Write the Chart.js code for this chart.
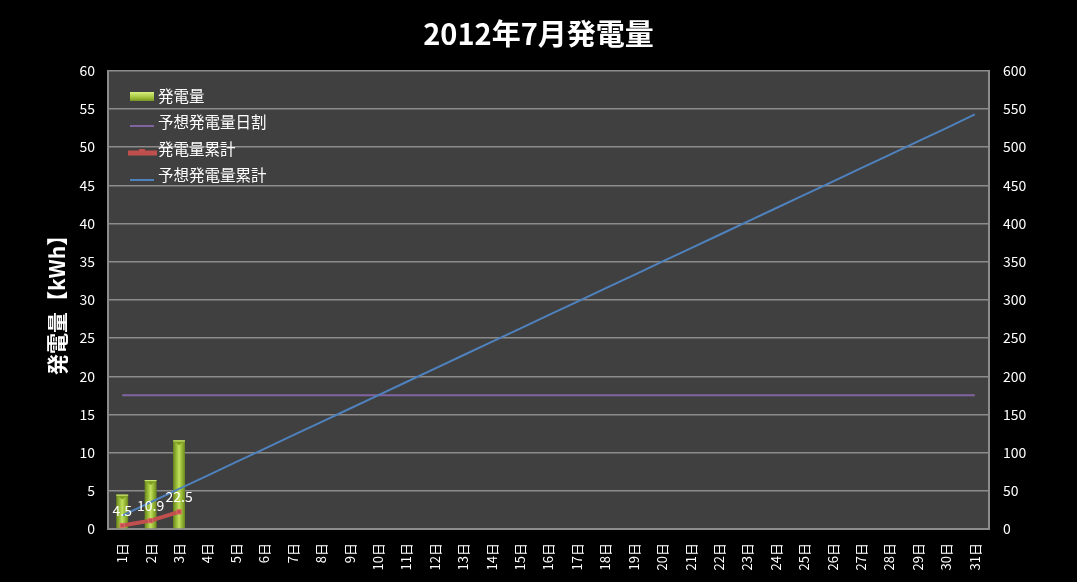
<!DOCTYPE html>
<html>
<head>
<meta charset="utf-8">
<script src="https://cdn.jsdelivr.net/npm/chart.js@4/dist/chart.umd.min.js"></script>
<style>
  html, body { margin: 0; padding: 0; background: #000; }
  #wrap { width: 1077px; height: 582px; }
</style>
</head>
<body>
<div id="wrap"><canvas id="c" width="1077" height="582"></canvas></div>
<script>
// 日付ラベル
var days = ['1日', '2日', '3日', '4日', '5日', '6日', '7日', '8日', '9日', '10日',
  '11日', '12日', '13日', '14日', '15日', '16日', '17日', '18日', '19日', '20日',
  '21日', '22日', '23日', '24日', '25日', '26日', '27日', '28日', '29日', '30日', '31日']
// 日毎の発電量 (kWh)
var daily = [4.5, 6.4, 11.6]
// 予想発電量の日割 (kWh)
var expectedDaily = [17.5, 17.5, 17.5, 17.5, 17.5, 17.5, 17.5, 17.5, 17.5, 17.5,
  17.5, 17.5, 17.5, 17.5, 17.5, 17.5, 17.5, 17.5, 17.5, 17.5,
  17.5, 17.5, 17.5, 17.5, 17.5, 17.5, 17.5, 17.5, 17.5, 17.5, 17.5]
// 発電量の累計 (kWh)
var cumulative = [4.5, 10.9, 22.5]
// 予想発電量の累計 (kWh)
var expectedCumulative = [17.5, 35, 52.5, 70, 87.5, 105, 122.5, 140, 157.5, 175,
  192.5, 210, 227.5, 245, 262.5, 280, 297.5, 315, 332.5, 350,
  367.5, 385, 402.5, 420, 437.5, 455, 472.5, 490, 507.5, 525, 543]

var FONT = "'Noto Sans CJK JP', 'Noto Sans', sans-serif"
var canvas = document.getElementById('c')
var BAR_PCT = 0.42

// 棒グラフの立体風グラデーション (x軸から位置を求める)
function barFill (context) {
  var chart = context.chart
  var xs = chart.scales && chart.scales.x
  if (!xs || context.dataIndex === undefined) return '#9bbb59'
  var cx = xs.getPixelForValue(context.dataIndex)
  var half = (xs.width / days.length) * BAR_PCT / 2
  if (!isFinite(cx) || !isFinite(half) || half <= 0) return '#9bbb59'
  var g = chart.ctx.createLinearGradient(cx - half, 0, cx + half, 0)
  g.addColorStop(0, '#6a871c')
  g.addColorStop(0.3, '#9cbf3a')
  g.addColorStop(0.5, '#c4e060')
  g.addColorStop(0.7, '#9cbf3a')
  g.addColorStop(1, '#6a871c')
  return g
}

// プロット領域の背景
var plotBg = {
  id: 'plotBg',
  beforeDraw: function (chart) {
    var a = chart.chartArea
    var c = chart.ctx
    c.save()
    c.fillStyle = '#404040'
    c.fillRect(a.left, a.top, a.right - a.left, a.bottom - a.top)
    c.restore()
  }
}

// 棒の上面 (三角形の影)
var barTops = {
  id: 'barTops',
  afterDatasetDraw: function (chart, args) {
    if (args.index !== 0) return
    var c = chart.ctx
    c.save()
    args.meta.data.forEach(function (bar) {
      var h = bar.width / 2
      c.fillStyle = '#7f9f22'
      c.beginPath()
      c.moveTo(bar.x - h, bar.y)
      c.lineTo(bar.x + h, bar.y)
      c.lineTo(bar.x, bar.y + h * 0.8)
      c.closePath()
      c.fill()
      c.fillStyle = '#d8f080'
      c.fillRect(bar.x - h, bar.y, bar.width, 1)
    })
    c.restore()
  }
}

// 累計のデータラベル
var cumLabels = {
  id: 'cumLabels',
  afterDatasetsDraw: function (chart) {
    var meta = chart.getDatasetMeta(2)
    var c = chart.ctx
    c.save()
    c.fillStyle = '#ffffff'
    c.font = '14px ' + FONT
    c.textAlign = 'center'
    c.textBaseline = 'middle'
    meta.data.forEach(function (pt, i) {
      c.fillText(String(cumulative[i]), pt.x, pt.y - 15)
    })
    c.restore()
  }
}

// プロット内の凡例
var innerLegend = {
  id: 'innerLegend',
  afterDraw: function (chart) {
    var c = chart.ctx
    var x = 130
    var rows = [96, 122, 149, 175]
    var names = ['発電量', '予想発電量日割', '発電量累計', '予想発電量累計']
    c.save()
    // 発電量
    var g = c.createLinearGradient(0, rows[0] - 4, 0, rows[0] + 6)
    g.addColorStop(0, '#d8f080')
    g.addColorStop(0.5, '#a8c840')
    g.addColorStop(1, '#6d8a1e')
    c.fillStyle = g
    c.fillRect(x, rows[0] - 4, 24, 9)
    // 予想発電量日割
    c.strokeStyle = '#8064a2'
    c.lineWidth = 2
    c.beginPath(); c.moveTo(x, rows[1] + 4); c.lineTo(x + 24, rows[1] + 4); c.stroke()
    // 発電量累計
    c.strokeStyle = '#c0504d'
    c.lineWidth = 5
    c.beginPath(); c.moveTo(x - 2, rows[2] + 4); c.lineTo(x + 27, rows[2] + 4); c.stroke()
    c.fillStyle = '#c0504d'
    c.fillRect(x + 9, rows[2], 6, 6)
    // 予想発電量累計
    c.strokeStyle = '#4f81bd'
    c.lineWidth = 2
    c.beginPath(); c.moveTo(x, rows[3] + 5); c.lineTo(x + 24, rows[3] + 5); c.stroke()

    c.fillStyle = '#ffffff'
    c.font = '15.5px ' + FONT
    c.textAlign = 'left'
    c.textBaseline = 'middle'
    names.forEach(function (n, i) { c.fillText(n, 158, rows[i]) })
    c.restore()
  }
}

new Chart(canvas, {
  data: {
    labels: days,
    datasets: [
      {
        type: 'bar',
        label: '発電量',
        data: daily,
        yAxisID: 'y',
        backgroundColor: barFill,
        borderWidth: 0,
        categoryPercentage: 1,
        barPercentage: BAR_PCT,
        order: 5
      },
      {
        type: 'line',
        label: '予想発電量日割',
        data: expectedDaily,
        yAxisID: 'y',
        borderColor: '#8064a2',
        borderWidth: 2,
        pointRadius: 0,
        order: 3
      },
      {
        type: 'line',
        label: '発電量累計',
        data: cumulative,
        yAxisID: 'y2',
        borderColor: '#c0504d',
        borderWidth: 4,
        pointStyle: 'rect',
        pointRadius: 3,
        pointBackgroundColor: '#c0504d',
        pointBorderColor: '#e06868',
        pointBorderWidth: 1,
        order: 1
      },
      {
        type: 'line',
        label: '予想発電量累計',
        data: expectedCumulative,
        yAxisID: 'y2',
        borderColor: '#4f81bd',
        borderWidth: 2,
        pointRadius: 0,
        order: 2
      }
    ]
  },
  options: {
    responsive: false,
    animation: false,
    layout: { padding: 0 },
    plugins: {
      legend: { display: false },
      tooltip: { enabled: false },
      title: {
        display: true,
        text: '2012年7月発電量',
        color: '#ffffff',
        font: { family: FONT, size: 29, weight: 'bold', lineHeight: 1.2 },
        padding: { top: 17, bottom: 19 }
      }
    },
    scales: {
      x: {
        grid: { display: false, drawTicks: false },
        border: { display: true, color: '#8c8c8c', width: 2 },
        ticks: {
          color: '#ffffff',
          font: { family: FONT, size: 13 },
          maxRotation: 90,
          minRotation: 90,
          autoSkip: false,
          padding: 14
        },
        afterFit: function (s) { s.height = 53 }
      },
      y: {
        position: 'left',
        min: 0,
        max: 60,
        ticks: {
          stepSize: 5,
          color: '#ffffff',
          font: { family: FONT, size: 14 },
          padding: 13
        },
        grid: { color: '#8c8c8c', lineWidth: 1.5, drawTicks: false },
        border: { display: true, color: '#8c8c8c', width: 2 },
        title: {
          display: true,
          text: '発電量【kWh】',
          color: '#ffffff',
          font: { family: FONT, size: 21, weight: 'bold', lineHeight: 1.2 },
          padding: { top: 44, bottom: 0 }
        },
        afterFit: function (s) { s.width = 108 }
      },
      y2: {
        position: 'right',
        min: 0,
        max: 600,
        ticks: {
          stepSize: 50,
          color: '#ffffff',
          font: { family: FONT, size: 14 },
          padding: 14
        },
        grid: { display: false, drawTicks: false },
        border: { display: true, color: '#8c8c8c', width: 2 },
        afterFit: function (s) { s.width = 88 }
      }
    }
  },
  plugins: [plotBg, barTops, cumLabels, innerLegend]
})
</script>
</body>
</html>
